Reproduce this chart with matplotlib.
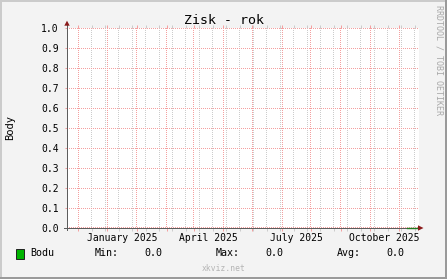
import matplotlib
matplotlib.use("Agg")
import matplotlib.pyplot as plt
import matplotlib.dates as mdates
from matplotlib.patches import Rectangle, Polygon
from matplotlib.colors import to_rgba
import numpy as np
import pandas as pd

# ---------------- data ----------------
title = "Zisk - rok"
y_label = "Body"
series_name = "Bodu"
x_start = "2024-10-20 06:00"
x_end = "2025-10-21 12:00"
data_dates = ["2025-10-09", "2025-10-10", "2025-10-11", "2025-10-12", "2025-10-13",
              "2025-10-14", "2025-10-15", "2025-10-16", "2025-10-17", "2025-10-18",
              "2025-10-19"]
data_values = [0.0, 0.0, 0.0, 0.0, 0.0, 0.0, 0.0, 0.0, 0.0, 0.0, 0.0]
month_grid = ["2024-11-01", "2024-12-01", "2025-01-01", "2025-02-01", "2025-03-01",
              "2025-04-01", "2025-05-01", "2025-06-01", "2025-07-01", "2025-08-01",
              "2025-09-01", "2025-10-01"]
minor_grid_start = "2024-11-15"
label_months = ["2025-01-01", "2025-04-01", "2025-07-01", "2025-10-01"]
label_texts = ["January 2025", "April 2025", "July 2025", "October 2025"]
y_ticks = [0.0, 0.1, 0.2, 0.3, 0.4, 0.5, 0.6, 0.7, 0.8, 0.9, 1.0]
watermark = "xkviz.net"
side_text = "RRDTOOL / TOBI OETIKER"

# ---------------- style ----------------
W, H = 447, 279
MONO = "DejaVu Sans Mono"
BG = "#f3f3f3"
RED_GRID = "#f4a0a0"
GRAY_GRID = "#cccccc"
AXIS_C = "#5c5c5c"
ARROW_C = "#8b1a1a"
LW = 0.72  # 1 px


def fx(px):
    return px / W


def fy(py):
    return 1 - py / H


fig = plt.figure(figsize=(W / 100, H / 100), dpi=100, facecolor=BG)

# 3D frame
fig.add_artist(Rectangle((0, fy(2)), 1, 2 / H, transform=fig.transFigure,
                         facecolor="#cbcbcb", edgecolor="none"))
fig.add_artist(Rectangle((0, 0), 2 / W, 1, transform=fig.transFigure,
                         facecolor="#cbcbcb", edgecolor="none"))
fig.add_artist(Rectangle((fx(445), 0), 2 / W, 1, transform=fig.transFigure,
                         facecolor="#9a9a9a", edgecolor="none"))
fig.add_artist(Rectangle((0, 0), 1, 2 / H, transform=fig.transFigure,
                         facecolor="#9a9a9a", edgecolor="none"))

PW, PH = 352, 200
ax = fig.add_axes([fx(67), fy(228), PW / W, PH / H])
ax.set_facecolor("white")
for s in ax.spines.values():
    s.set_visible(False)

x0 = pd.Timestamp(x_start)
x1 = pd.Timestamp(x_end)
ax.set_xlim(x0, x1)
ax.set_ylim(0, 1)

major_locs = [mdates.date2num(pd.Timestamp(d)) for d in month_grid]
minor_locs = list(mdates.date2num(pd.date_range(minor_grid_start, x1, freq="14D")))
ax.xaxis.set_major_locator(matplotlib.ticker.FixedLocator(major_locs))
ax.xaxis.set_minor_locator(matplotlib.ticker.FixedLocator(minor_locs))
ax.tick_params(axis="x", which="major", top=True, bottom=True, direction="out",
               length=2.2, width=LW, color=RED_GRID, labelbottom=False)
ax.tick_params(axis="x", which="minor", top=True, bottom=True, direction="out",
               length=2.2, width=LW, color=GRAY_GRID, labelbottom=False)

ax.set_yticks(y_ticks)
ax.set_yticklabels([f"{v:.1f}" for v in y_ticks], fontfamily=MONO, fontsize=7)
ax.tick_params(axis="y", which="major", left=True, direction="out", length=1.6,
               width=LW, color=RED_GRID, pad=4.3, labelcolor="black")

# dotted grid (1 px on / 1 px off) rendered as a pixel layer; the line
# positions come from the axes' own data transform
ax_x0, ax_y0 = ax.bbox.x0, ax.bbox.y0
grid_img = np.zeros((PH, PW, 4))


def col_of(xnum):
    return int(np.floor(ax.transData.transform((xnum, 0.5))[0] - ax_x0))


def row_of(yv):
    disp_y = ax.transData.transform((major_locs[0], yv))[1]
    return int(np.clip(round(PH - (disp_y - ax_y0)), 0, PH - 1))


red = np.array(to_rgba(RED_GRID))
gray = np.array(to_rgba(GRAY_GRID))
for xl in minor_locs:
    c = col_of(xl)
    if 0 <= c < PW:
        grid_img[0::2, c] = gray
for xl in major_locs:
    c = col_of(xl)
    if 0 <= c < PW:
        grid_img[0::2, c] = red
for yv in y_ticks:
    r = row_of(yv)
    grid_img[r, 0::2] = red
ax.imshow(grid_img, extent=(0, 1, 0, 1), transform=ax.transAxes, aspect="auto",
          interpolation="nearest", zorder=0.5)
ax.set_xlim(x0, x1)
ax.set_ylim(0, 1)

# x labels (centered half a month before the month start)
for d, t in zip(label_months, label_texts):
    xd = pd.Timestamp(d) - pd.Timedelta(days=15.5)
    ax.text(xd, -0.048, t, ha="center", va="center", fontfamily=MONO, fontsize=7,
            transform=ax.get_xaxis_transform(), clip_on=False)

# axes lines with arrows
ax.plot([0, 0], [-2 / PH, 1 + 3 / PH], transform=ax.transAxes, color=AXIS_C,
        linewidth=LW, clip_on=False, zorder=5)
ax.plot([-3 / PW, 1], [0, 0], transform=ax.transAxes, color=AXIS_C,
        linewidth=LW, clip_on=False, zorder=5)
ax.add_patch(Polygon([[-2.7 / PW, 1 + 2.3 / PH], [2.7 / PW, 1 + 2.3 / PH], [0, 1 + 7.3 / PH]],
                     closed=True, transform=ax.transAxes, facecolor=ARROW_C,
                     edgecolor="none", clip_on=False, zorder=6))
ax.add_patch(Polygon([[-1 / PW + 1, 2.7 / PH], [-1 / PW + 1, -2.7 / PH], [4.5 / PW + 1, 0]],
                     closed=True, transform=ax.transAxes, facecolor=ARROW_C,
                     edgecolor="none", clip_on=False, zorder=6))

# data line
dd = pd.to_datetime(data_dates)
vals = np.array(data_values, dtype=float)
ax.plot(dd, vals, color="#1e7a1e", linewidth=1.0, zorder=10, clip_on=False)

# title and labels
fig.text(0.5, fy(20), title, ha="center", va="center", fontfamily=MONO, fontsize=9.5)
fig.text(fx(10), fy(128), y_label, ha="center", va="center", rotation=90,
         fontfamily=MONO, fontsize=7.5)
fig.text(fx(439.5), fy(5), side_text, ha="center", va="top", rotation=270,
         fontfamily=MONO, fontsize=6, color="#a8a8a8")

# legend
fig.add_artist(Rectangle((fx(15.5), fy(258.5)), 8.5 / W, 9.5 / H, transform=fig.transFigure,
                         facecolor="#00b400", edgecolor="#202020", linewidth=0.7))
ly = fy(253.3)
vmin, vmax, vavg = np.nanmin(vals), np.nanmax(vals), np.nanmean(vals)
fs = 7.2
fig.text(fx(30.5), ly, series_name, ha="left", va="center", fontfamily=MONO, fontsize=fs)
fig.text(fx(95), ly, "Min:", ha="left", va="center", fontfamily=MONO, fontsize=fs)
fig.text(fx(144), ly, f"{vmin:.1f}", ha="left", va="center", fontfamily=MONO, fontsize=fs)
fig.text(fx(216), ly, "Max:", ha="left", va="center", fontfamily=MONO, fontsize=fs)
fig.text(fx(265.3), ly, f"{vmax:.1f}", ha="left", va="center", fontfamily=MONO, fontsize=fs)
fig.text(fx(337.3), ly, "Avg:", ha="left", va="center", fontfamily=MONO, fontsize=fs)
fig.text(fx(386.7), ly, f"{vavg:.1f}", ha="left", va="center", fontfamily=MONO, fontsize=fs)

fig.text(fx(223.3), fy(268.3), watermark, ha="center", va="center", fontfamily=MONO,
         fontsize=5.8, color="#b4b4b4")

fig.savefig("out.png", dpi=100, facecolor=fig.get_facecolor())
